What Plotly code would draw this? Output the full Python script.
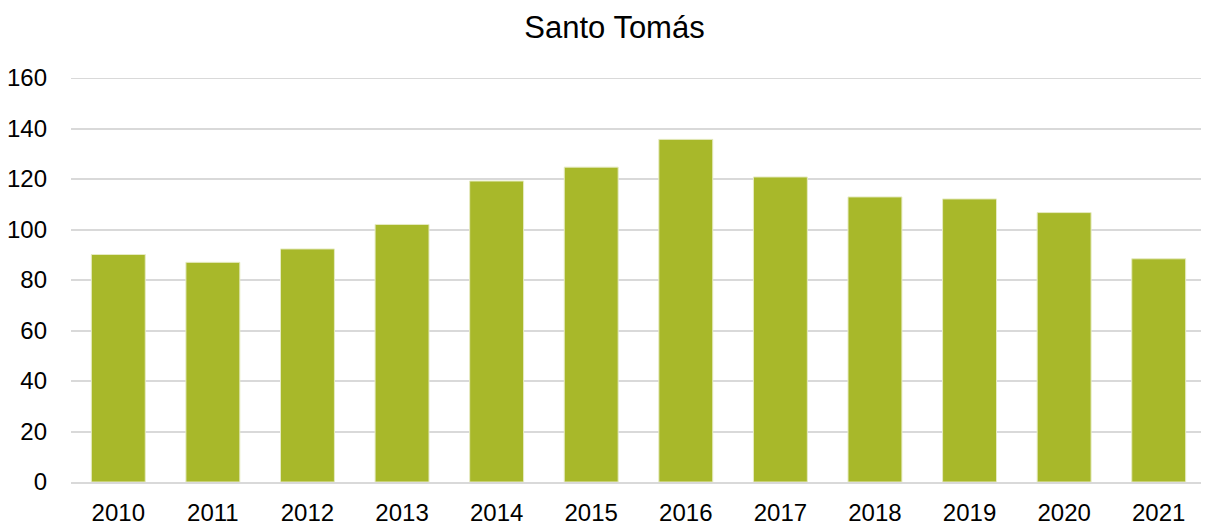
import plotly.graph_objects as go

years = ["2010", "2011", "2012", "2013", "2014", "2015", "2016", "2017", "2018", "2019", "2020", "2021"]
values = [90.1, 87.0, 92.3, 102.0, 119.2, 124.7, 135.7, 120.8, 112.9, 112.1, 106.7, 88.4]
y_ticks = [0, 20, 40, 60, 80, 100, 120, 140, 160]

fig = go.Figure(
    go.Bar(
        x=years,
        y=values,
        marker=dict(color="#A8B82A", line=dict(color="#E6EBC2", width=1)),
        width=0.57,
    )
)

# page body has an 8px margin, so the figure is sized to fit the window exactly
fig.update_layout(
    width=1201,
    height=517,
    paper_bgcolor="white",
    plot_bgcolor="white",
    margin=dict(l=63, r=3, t=70, b=43, autoexpand=False),
    title=dict(
        text="Santo Tomás",
        x=0.505,
        xref="container",
        xanchor="center",
        y=0.963,
        yanchor="middle",
        font=dict(family="Liberation Sans, Arial", size=31, color="#000000"),
    ),
    font=dict(family="Liberation Sans, Arial", size=24, color="#000000"),
    showlegend=False,
    bargap=0.43,
)

fig.add_hline(y=160, line=dict(color="#d9d9d9", width=2), layer="below")

fig.update_xaxes(
    type="category",
    automargin=False,
    showgrid=False,
    showline=True,
    linecolor="#d9d9d9",
    linewidth=2,
    ticks="",
    ticklabelstandoff=8,
    tickfont=dict(size=24),
)
fig.update_yaxes(
    range=[0, 160],
    automargin=False,
    tickvals=y_ticks,
    showgrid=True,
    gridcolor="#d9d9d9",
    gridwidth=1.5,
    zeroline=False,
    showline=False,
    ticks="",
    ticklabelstandoff=23,
    tickfont=dict(size=24),
)

fig.write_html("out.html")
